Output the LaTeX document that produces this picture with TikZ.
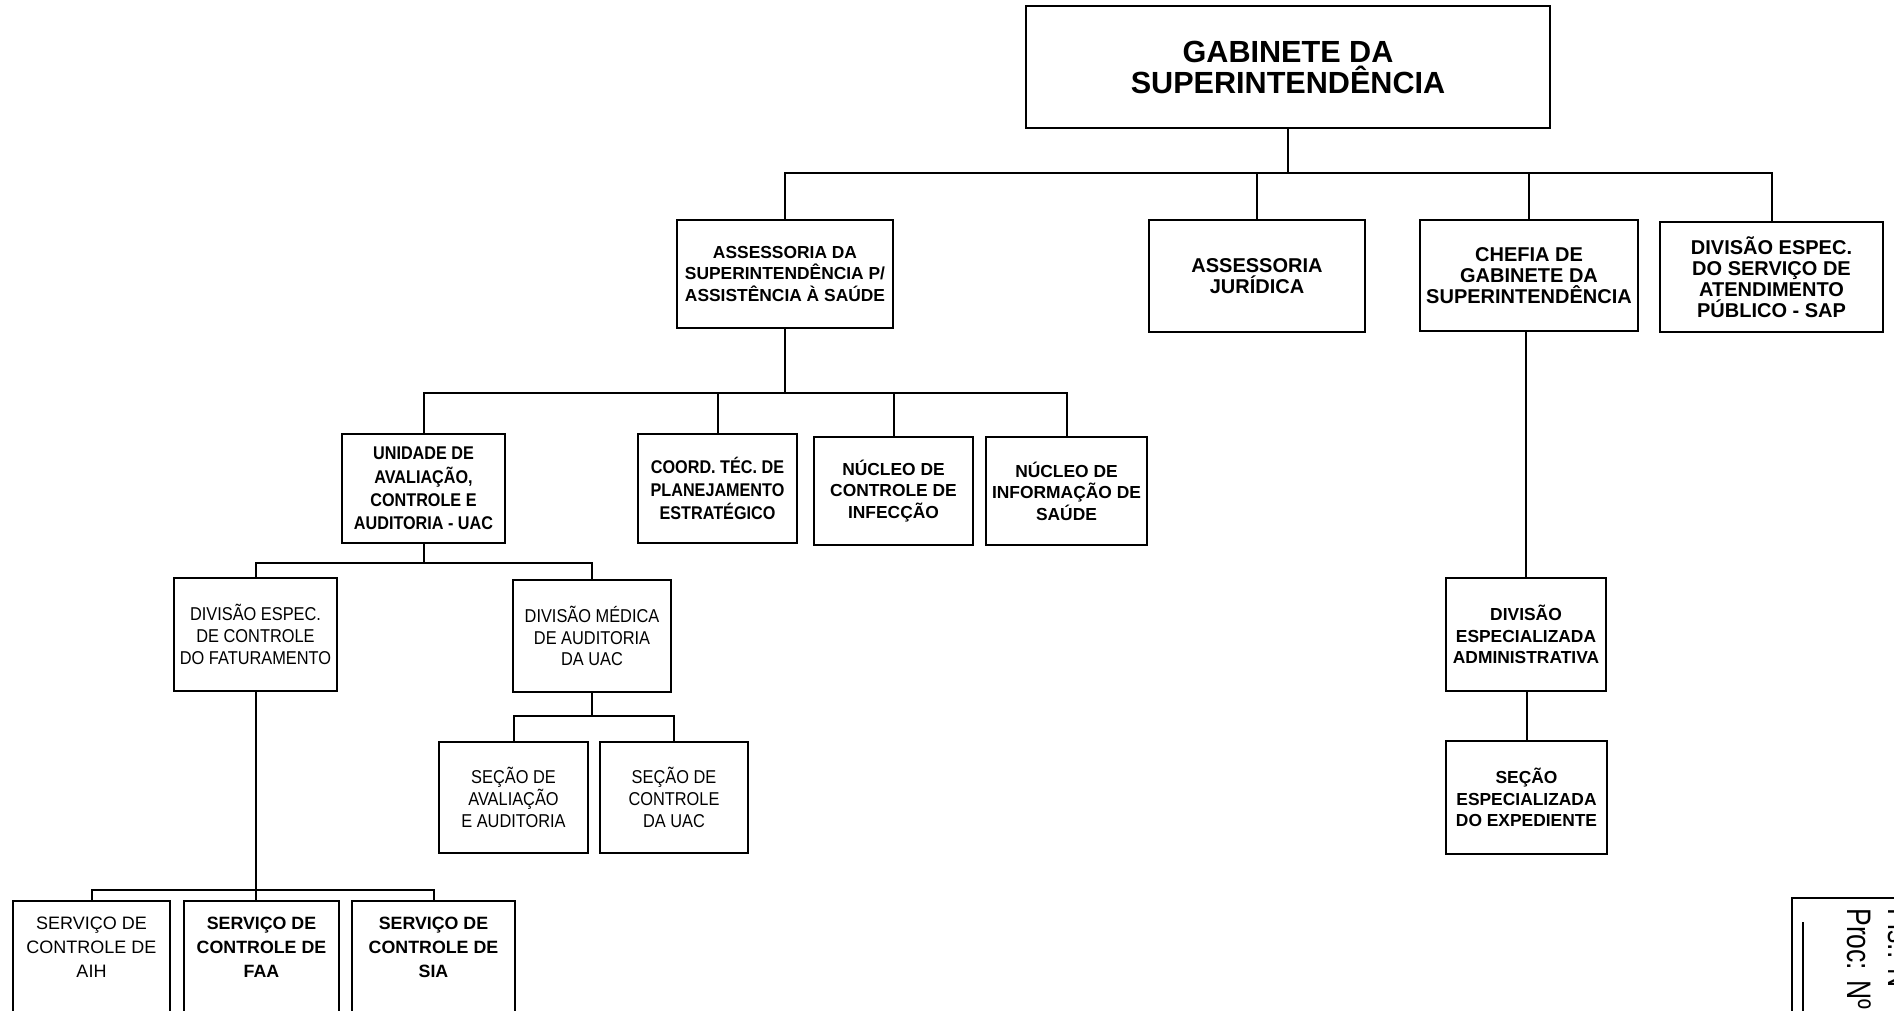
\documentclass[tikz,border=0pt]{standalone}
\usepackage{fontspec}
\setmainfont{Liberation Sans}
\newfontfamily\narrowfont[FakeStretch=0.88]{Liberation Sans}
\newfontfamily\stampfamily[FakeStretch=0.78]{Liberation Sans}
\usetikzlibrary{positioning}

\begin{document}
\begin{tikzpicture}[x = .5pt, y = -.5pt,
  box/.style={draw, line width=1.2pt, align=center, inner sep=0pt},
  link/.style={line width=1pt},
  topfont/.style={font=\bfseries\fontsize{15.3}{15.5}\selectfont},
  headfont/.style={font=\bfseries\fontsize{10}{10.5}\selectfont},
  unitfont/.style={font=\bfseries\fontsize{8.7}{10.8}\selectfont},
  nbfont/.style={font=\narrowfont\bfseries\fontsize{9.2}{11.6}\selectfont},
  nrfont/.style={font=\narrowfont\fontsize{9.3}{10.8}\selectfont},
  srvfont/.style={font=\bfseries\fontsize{8.9}{12}\selectfont},
  plainfont/.style={font=\fontsize{9}{12}\selectfont},
  stampfont/.style={font=\stampfamily\fontsize{17}{18}\selectfont}]
  \useasboundingbox (0,0) rectangle (1894,1011);
  \node[box, topfont, minimum width=262pt, minimum height=61pt] (0) at (1288,67) {GABINETE DA\\SUPERINTENDÊNCIA};
  \node[box, unitfont, minimum width=108pt, minimum height=54pt] (1) at (785,274) {ASSESSORIA DA\\SUPERINTENDÊNCIA P/\\ASSISTÊNCIA À SAÚDE};
  \node[box, headfont, minimum width=108pt, minimum height=56pt] (2) at (1257,276) {ASSESSORIA\\JURÍDICA};
  \node[box, headfont, minimum width=109pt, minimum height=55.5pt] (3) at (1529,275.5) {CHEFIA DE\\GABINETE DA\\SUPERINTENDÊNCIA};
  \node[box, headfont, minimum width=111.5pt, minimum height=55pt] (4) at (1771.5,277) {DIVISÃO ESPEC.\\DO SERVIÇO DE\\ATENDIMENTO\\PÚBLICO - SAP};
  \node[box, nbfont, minimum width=81.5pt, minimum height=54.5pt] (5) at (423.5,488.5) {UNIDADE DE\\AVALIAÇÃO,\\CONTROLE E\\AUDITORIA - UAC};
  \node[box, nbfont, minimum width=79.5pt, minimum height=54.5pt] (6) at (717.5,488.5) {COORD. TÉC. DE\\PLANEJAMENTO\\ESTRATÉGICO};
  \node[box, unitfont, minimum width=79.5pt, minimum height=54pt] (7) at (893.5,491) {NÚCLEO DE\\CONTROLE DE\\INFECÇÃO};
  \node[box, unitfont, minimum width=80.5pt, minimum height=54pt] (8) at (1066.5,491) {NÚCLEO DE\\INFORMAÇÃO DE\\SAÚDE};
  \node[box, nrfont, minimum width=81.5pt, minimum height=56.5pt] (9) at (255.5,634.5) {DIVISÃO ESPEC.\\DE CONTROLE\\DO FATURAMENTO};
  \node[box, nrfont, minimum width=79pt, minimum height=56pt] (10) at (592,636) {DIVISÃO MÉDICA\\DE AUDITORIA\\DA UAC};
  \node[box, nrfont, minimum width=74.5pt, minimum height=55.5pt] (11) at (513.5,797.5) {SEÇÃO DE\\AVALIAÇÃO\\E AUDITORIA};
  \node[box, nrfont, minimum width=74pt, minimum height=55.5pt] (12) at (674,797.5) {SEÇÃO DE\\CONTROLE\\DA UAC};
  \node[box, unitfont, minimum width=80pt, minimum height=56.5pt] (13) at (1526,634.5) {DIVISÃO\\ESPECIALIZADA\\ADMINISTRATIVA};
  \node[box, unitfont, minimum width=80.5pt, minimum height=56.5pt] (14) at (1526.5,797.5) {SEÇÃO\\ESPECIALIZADA\\DO EXPEDIENTE};
  \node[box, plainfont, anchor=north, inner ysep=8pt, minimum width=78.5pt] (15) at (91.5,900) {SERVIÇO DE\\CONTROLE DE\\AIH\rule[-40pt]{0pt}{0pt}};
  \node[box, srvfont, anchor=north, inner ysep=8pt, minimum width=77.5pt] (16) at (261.5,900) {SERVIÇO DE\\CONTROLE DE\\FAA\rule[-40pt]{0pt}{0pt}};
  \node[box, srvfont, anchor=north, inner ysep=8pt, minimum width=81.5pt] (17) at (433.5,900) {SERVIÇO DE\\CONTROLE DE\\SIA\rule[-40pt]{0pt}{0pt}};
  \coordinate (b0) at (0,173);
  \coordinate (b1) at (0,393);
  \coordinate (b5) at (0,563);
  \coordinate (b10) at (0,716);
  \coordinate (b9) at (0,890);
  \draw[link] (0.south) -- (0.south |- b0);
  \draw[link] (1.north) |- (0.south |- b0);
  \draw[link] (2.north) |- (0.south |- b0);
  \draw[link] (3.north) |- (0.south |- b0);
  \draw[link] (4.north) |- (0.south |- b0);
  \draw[link] (1.south) -- (1.south |- b1);
  \draw[link] (5.north) |- (1.south |- b1);
  \draw[link] (6.north) |- (1.south |- b1);
  \draw[link] (7.north) |- (1.south |- b1);
  \draw[link] (8.north) |- (1.south |- b1);
  \draw[link] (5.south) -- (5.south |- b5);
  \draw[link] (9.north) |- (5.south |- b5);
  \draw[link] (10.north) |- (5.south |- b5);
  \draw[link] (10.south) -- (10.south |- b10);
  \draw[link] (11.north) |- (10.south |- b10);
  \draw[link] (12.north) |- (10.south |- b10);
  \draw[link] (9.south) -- (9.south |- 16.north);
  \draw[link] (15.north) |- (9.south |- b9);
  \draw[link] (17.north) |- (9.south |- b9);
  \draw[link] (13.north) -- (13.north |- 3.south);
  \draw[link] (14.north) -- (14.north |- 13.south);
  % stamp in the corner
  \draw[link] (1792,1011) -- (1792,898) -- (1894,898);
  \draw[link] (1803,922) -- (1803,1011);
  \node[stampfont, rotate=-90, anchor=base west, inner sep=0pt] (18) at (1847,908) {Proc: Nº};
  \node[stampfont, rotate=-90, anchor=base west, inner sep=0pt] (19) at (1888,908) {Fls.: Nº};
\end{tikzpicture}
\end{document}
